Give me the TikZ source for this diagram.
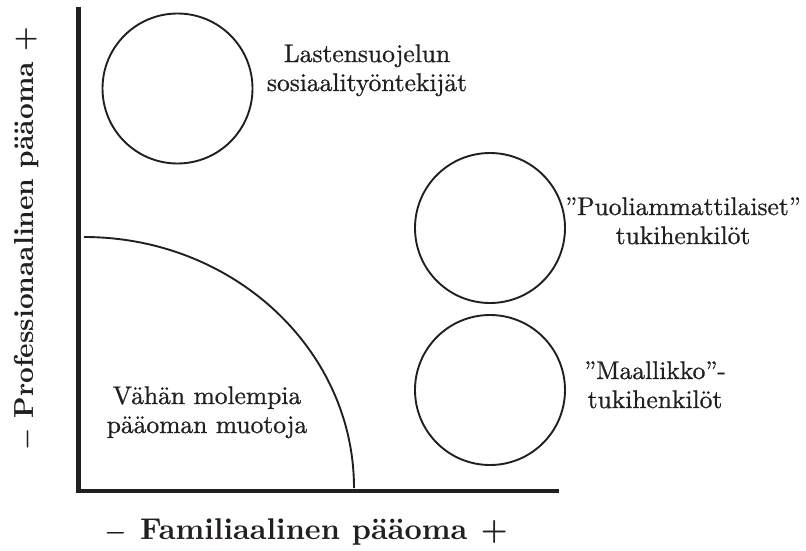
\documentclass[tikz,border=0pt]{standalone}
\usepackage{amsmath}
\usepackage{fontspec}
\setmainfont{lmroman10-regular}[Extension=.otf, BoldFont=lmroman10-bold, UprightFeatures={FakeBold=0.8}]
\begin{document}
\begin{tikzpicture}[x=1pt,y=-1pt]
\useasboundingbox (0,0) rectangle (806,550);
\definecolor{ink}{RGB}{35,31,32}
\tikzset{
  circ/.style={circle, draw=ink, line width=1.9pt, minimum size=150pt, inner sep=0pt},
  lbl/.style={font=\fontsize{25.5}{29}\selectfont, align=center, text=ink, inner sep=0pt},
  axlbl/.style={font=\fontsize{27.5}{32}\selectfont\bfseries, text=ink, inner sep=0pt},
  axisline/.style={line width=4.8pt, draw=ink},
  curve/.style={line width=1.9pt, draw=ink}
}
% axes
\coordinate (ytop) at (78.5,7);
\coordinate (orig) at (78.5,491);
\coordinate (xend) at (559,491);
\draw[axisline] (ytop) -- (orig) -- (xend);
% quarter ellipse
\coordinate (arcstart) at (84,237);
\draw[curve] (arcstart) arc[start angle=-90, end angle=0, x radius=270, y radius=251];
% circles
\node[circ] (c1) at (177.5,88.5) {};
\node[circ] (c2) at (490,228) {};
\node[circ] (c3) at (490,390) {};
% labels (base = baseline of last line)
\node[lbl, anchor=base] (t1) at (367,91) {Lastensuojelun\\sosiaalityöntekijät};
\node[lbl, anchor=base] (t2) at (683,244) {”Puoliammattilaiset”\\tukihenkilöt};
\node[lbl, anchor=base] (t3) at (655,408) {”Maallikko”-\\tukihenkilöt};
\node[lbl, anchor=base] (t4) at (207,433) {Vähän molempia\\pääoman muotoja};
% axis labels
\node[axlbl, font=\fontsize{30}{34}\selectfont\bfseries, anchor=base] (xl) at (306,539) {{\boldmath$-$}\hspace{0.45em}Familiaalinen\hspace{0.4em}pääoma\hspace{0.45em}+};
\node[axlbl, anchor=base, rotate=90] (yl) at (34,239) {{\boldmath$-$} Professionaalinen pääoma +};
\end{tikzpicture}
\end{document}
